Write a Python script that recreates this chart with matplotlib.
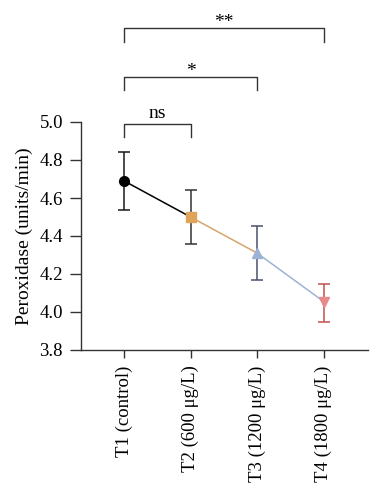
import matplotlib
matplotlib.use("Agg")
import matplotlib.pyplot as plt

plt.rcParams['font.family'] = ['Liberation Serif', 'DejaVu Serif']
plt.rcParams['font.size'] = 14

# data
groups = ['T1 (control)', 'T2 (600 μg/L)', 'T3 (1200 μg/L)', 'T4 (1800 μg/L)']
means = [4.69, 4.50, 4.31, 4.055]
err_lo = [0.155, 0.143, 0.141, 0.108]
err_hi = [0.152, 0.141, 0.141, 0.094]
markers = ['o', 's', '^', 'v']
marker_colors = ['#000000', '#E0A35C', '#9DB3D6', '#E8898C']
err_colors = ['#1a1a1a', '#333333', '#4A4F6E', '#C0504F']
seg_colors = ['#000000', '#D9A46C', '#9DB3D6']

# significance brackets: (start, end, label, top, drop)
brackets = [(0, 1, 'ns', 4.99, 0.07),
            (0, 2, '*', 5.237, 0.07),
            (0, 3, '**', 5.495, 0.075)]

fig = plt.figure(figsize=(3.83, 5.0), dpi=100)
ax = fig.add_axes([0.2115, 0.30, 0.75, 0.456])

x = list(range(len(groups)))

# connecting segments
for i in range(len(groups) - 1):
    ax.plot([x[i], x[i + 1]], [means[i], means[i + 1]], color=seg_colors[i],
            linewidth=1.1, zorder=2)

# error bars and markers
for i in range(len(groups)):
    ax.errorbar(x[i], means[i], yerr=[[err_lo[i]], [err_hi[i]]], fmt='none',
                ecolor=err_colors[i], elinewidth=1.1, capsize=4, capthick=1.1, zorder=1)
    ax.plot(x[i], means[i], marker=markers[i], color=marker_colors[i],
            markersize=7, linestyle='none', zorder=3)

ax.set_xlim(-0.647, 3.67)
ax.set_ylim(3.8, 5.0)
ax.set_yticks([3.8, 4.0, 4.2, 4.4, 4.6, 4.8, 5.0])
ax.set_yticklabels(['3.8', '4.0', '4.2', '4.4', '4.6', '4.8', '5.0'])
ax.set_xticks(x)
ax.set_xticklabels(groups, rotation=90, fontsize=13.5)
ax.set_ylabel('Peroxidase (units/min)', fontsize=14, labelpad=5)

for side in ['top', 'right']:
    ax.spines[side].set_visible(False)
for side in ['left', 'bottom']:
    ax.spines[side].set_linewidth(1.0)
    ax.spines[side].set_color('#333333')
ax.tick_params(axis='y', direction='out', length=8, width=1.0, color='#333333',
               labelsize=13.5, pad=5)
ax.tick_params(axis='x', direction='out', length=6, width=1.0, color='#333333', pad=5)

# brackets above the plot
for s, e, lab, top, drop in brackets:
    ax.plot([x[s], x[s], x[e], x[e]], [top - drop, top, top, top - drop],
            color='#333333', linewidth=1.0, clip_on=False)
    off = 0.032 if lab == 'ns' else 0.005
    ax.text((x[s] + x[e]) / 2, top + off, lab, ha='center', va='baseline',
            fontsize=14)

fig.savefig('out.png', dpi=100)
